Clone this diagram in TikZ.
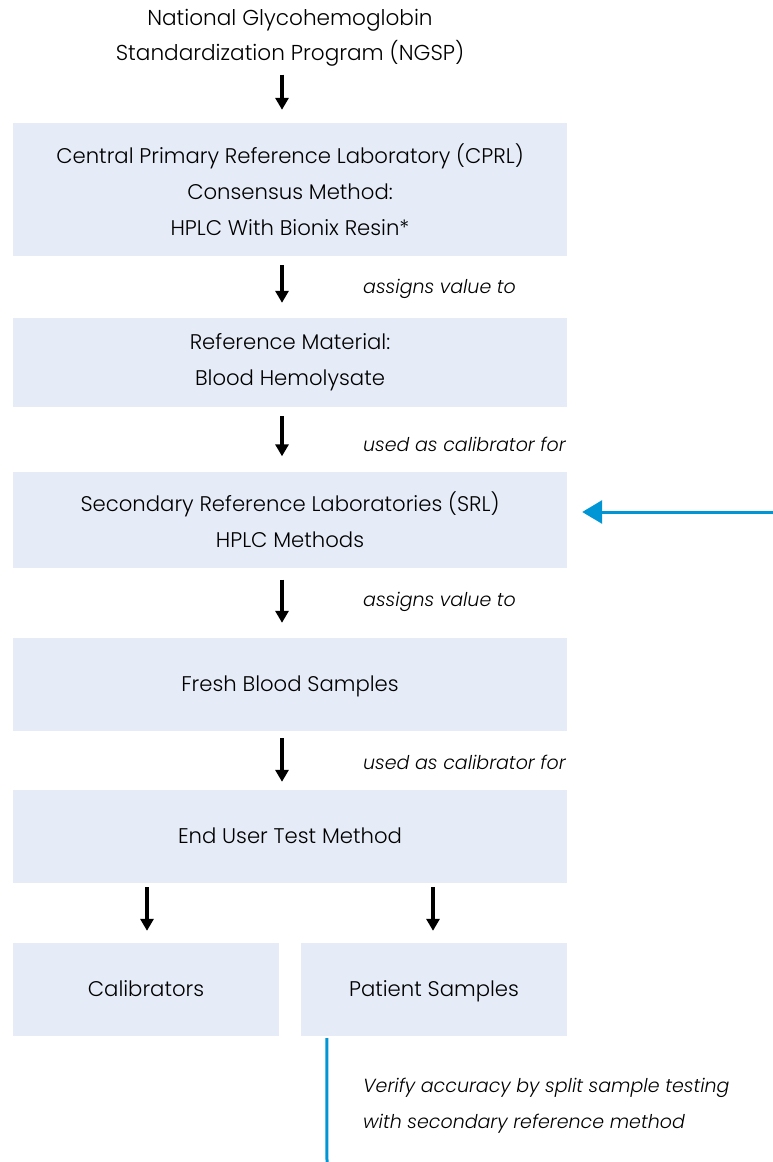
\documentclass[tikz,border=0pt]{standalone}
\usepackage{fontspec}
\setmainfont{Poppins Light}[ItalicFont={Poppins Light Italic}]
\usetikzlibrary{arrows.meta}
\definecolor{boxfill}{HTML}{E5ECF7}
\definecolor{accent}{HTML}{0096D6}
\tikzset{
  box/.style={rectangle, fill=boxfill, inner sep=0pt, align=center, font=\fontsize{21.2}{36}\selectfont},
  plain/.style={inner sep=0pt, align=center, font=\fontsize{21.6}{35}\selectfont},
  lbl/.style={inner sep=0pt, anchor=west, align=left, font=\itshape\fontsize{19}{36}\selectfont},
  flow/.style={line width=3.5pt, -{Triangle[width=13pt,length=12pt]}},
  blueline/.style={accent, line width=3pt},
}
\begin{document}
\begin{tikzpicture}[x=1pt,y=-1pt]
\useasboundingbox (0,0) rectangle (773,1162);
\node[plain] (top) at (290,38) {National Glycohemoglobin\\Standardization Program (NGSP)};
\node[box, minimum width=554pt, minimum height=133pt] (b1) at (290,189.5) {Central Primary Reference Laboratory (CPRL)\\Consensus Method:\\HPLC With Bionix Resin*};
\node[box, minimum width=554pt, minimum height=89pt] (b2) at (290,362.5) {Reference Material:\\Blood Hemolysate};
\node[box, minimum width=554pt, minimum height=96pt] (b3) at (290,519.5) {Secondary Reference Laboratories (SRL)\\HPLC Methods};
\node[box, minimum width=554pt, minimum height=93pt] (b4) at (290,684.5) {\strut Fresh Blood Samples};
\node[box, minimum width=554pt, minimum height=93pt] (b5) at (290,836.5) {\strut End User Test Method};
\node[box, minimum width=266pt, minimum height=93pt] (b6) at (146,989.5) {\strut Calibrators};
\node[box, minimum width=266pt, minimum height=93pt] (b7) at (434,989.5) {\strut Patient Samples};

\node[lbl] (l1) at (363,289) {assigns value to};
\node[lbl] (l2) at (363,444) {used as calibrator for};
\node[lbl] (l3) at (363,602) {assigns value to};
\node[lbl] (l4) at (363,762) {used as calibrator for};
\node[lbl] (note) at (363,1106) {Verify accuracy by split sample testing\\with secondary reference method};

\draw[flow] (top.south) ++(-8pt,-8pt) coordinate (a0s) -- ([shift={(-8pt,13pt)}]b1.north);
\draw[flow] ([shift={(-8pt,-9pt)}]b1.south) -- ([shift={(-8pt,15pt)}]b2.north);
\draw[flow] ([shift={(-8pt,-9pt)}]b2.south) -- ([shift={(-8pt,15pt)}]b3.north);
\draw[flow] ([shift={(-8pt,-12pt)}]b3.south) -- ([shift={(-8pt,15pt)}]b4.north);
\draw[flow] ([shift={(-8pt,-7pt)}]b4.south) -- ([shift={(-8pt,8pt)}]b5.north);
\draw[flow] ([shift={(1pt,-4pt)}]b5.south -| b6.north) -- ([shift={(1pt,12pt)}]b6.north);
\draw[flow] ([shift={(-1pt,-4pt)}]b5.south -| b7.north) -- ([shift={(-1pt,12pt)}]b7.north);

\coordinate (bluestart) at (773,512);
\draw[accent, line width=3pt, -{Triangle[width=23pt,length=20pt]}] (bluestart) -- ([shift={(15pt,7.5pt)}]b3.east);
\coordinate (lineend) at (327,1162);
\draw[blueline] ([shift={(26pt,-2pt)}]b7.south west) -- (lineend);
\end{tikzpicture}
\end{document}
